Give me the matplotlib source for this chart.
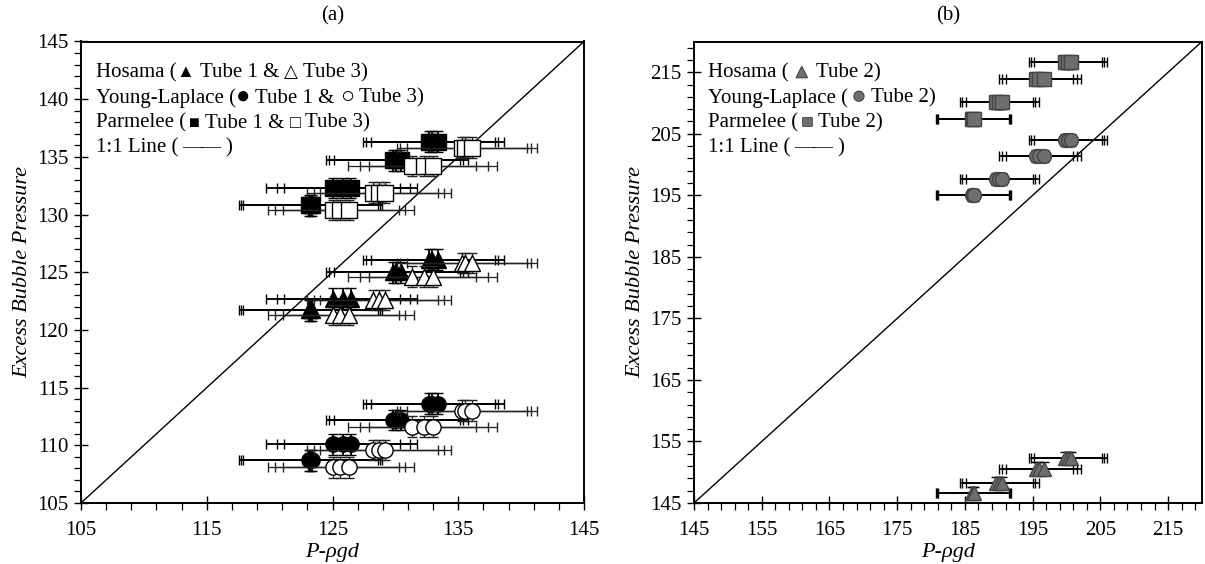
import matplotlib
matplotlib.use("Agg")
import matplotlib.pyplot as plt
import numpy as np
from matplotlib.ticker import MultipleLocator
import matplotlib.patheffects as pe

plt.rcParams['font.family'] = ['Liberation Serif', 'DejaVu Sans']

# ---------------- data: panel (a) ----------------
# measured P - rho g d (x), replicates per level
t1_x = [[123.10, 123.25, 123.40], [125.05, 125.85, 126.45],
        [129.80, 130.05, 130.45], [132.70, 132.95, 133.35]]
t1_xerr = [5.5, 5.3, 5.35, 5.25]
t3_x = [[125.05, 125.60, 126.30], [128.20, 128.70, 129.20],
        [131.35, 132.30, 133.00], [135.30, 135.55, 136.10]]
t3_xerr = [5.2, 5.2, 5.1, 5.2]
# excess bubble pressure per level (y)
hos_t1 = [121.7, 122.7, 125.0, 126.1]
hos_t3 = [121.3, 122.6, 124.6, 125.8]
yl_t1 = [108.7, 110.1, 112.2, 113.6]
yl_t3 = [108.1, 109.6, 111.6, 113.0]
par_t1 = [130.8, 132.3, 134.7, 136.3]
par_t3 = [130.4, 131.9, 134.2, 135.8]
yerr_a = 0.9

# ---------------- data: panel (b) ----------------
t2_x = [[186.10, 186.25, 186.40], [189.60, 190.00, 190.50],
        [195.50, 196.00, 196.60], [199.80, 200.20, 200.60]]
t2_xerr = [5.4, 5.4, 5.5, 5.4]
hos_t2 = [146.6, 148.2, 150.6, 152.3]
yl_t2 = [195.1, 197.6, 201.4, 204.0]
par_t2 = [207.4, 210.1, 213.9, 216.6]
yerr_b = 1.0

fig = plt.figure(figsize=(12.05, 5.64), dpi=100)
axA = fig.add_axes([81/1205, 61/564, 503/1205, 461.5/564])
axB = fig.add_axes([694/1205, 61/564, 508/1205, 461.5/564])


def group(ax, xs, xerrs, ys, yerr, marker, mfc, mec, ms, elw, ecol, z):
    counts = [len(r) for r in xs]
    x = np.concatenate([np.asarray(r, float) for r in xs])
    xe = np.repeat(xerrs, counts)
    y = np.repeat(ys, counts)
    ax.errorbar(x, y, xerr=xe, yerr=yerr, fmt=marker, ms=ms, mfc=mfc, mec=mec,
                mew=1.0, ecolor=ecol, elinewidth=elw, capsize=3.5, capthick=elw,
                zorder=z)


# panel (a)
for ys, mk, ms in [(hos_t1, '^', 11.5), (yl_t1, 'o', 11), (par_t1, 's', 11)]:
    group(axA, t1_x, t1_xerr, ys, yerr_a, mk, 'black', 'black', ms, 1.3, 'black', 3)
for ys, mk, ms in [(hos_t3, '^', 11.5), (yl_t3, 'o', 11), (par_t3, 's', 11)]:
    group(axA, t3_x, t3_xerr, ys, yerr_a, mk, 'white', 'black', ms, 0.9, '#222222', 4)

# panel (b)
for ys, mk, ms in [(hos_t2, '^', 10), (yl_t2, 'o', 10), (par_t2, 's', 10)]:
    group(axB, t2_x, t2_xerr, ys, yerr_b, mk, '#6e6e6e', '#444444', ms, 1.2, 'black', 3)

for ax, lo, hi in [(axA, 105, 145), (axB, 145, 220)]:
    ax.axline((lo, lo), slope=1, color='black', lw=1.0, zorder=2)
    ax.set_xlim(lo, hi)
    ax.set_ylim(lo, hi)
    for s in ax.spines.values():
        s.set_linewidth(1.4)
    ax.tick_params(which='major', direction='inout', length=10, width=1.0,
                   labelsize=15)
    ax.tick_params(axis='x', which='major', pad=8)
    ax.tick_params(axis='y', which='major', pad=4)
    ax.tick_params(which='minor', direction='out', length=5, width=0.9)
    ax.set_xlabel('P-ρgd', fontsize=16, fontstyle='italic', labelpad=2)
    ax.set_ylabel('Excess Bubble Pressure', fontsize=16, fontstyle='italic',
                  labelpad=3.5)
    ax.xaxis.set_major_locator(MultipleLocator(10, offset=5))
    ax.xaxis.set_minor_locator(MultipleLocator(2, offset=1))

axA.yaxis.set_major_locator(MultipleLocator(5))
axA.yaxis.set_minor_locator(MultipleLocator(1))
axB.yaxis.set_major_locator(MultipleLocator(10, offset=5))
axB.yaxis.set_minor_locator(MultipleLocator(2, offset=1))

axA.set_title('(a)', fontsize=15, pad=15)
axB.set_title('(b)', fontsize=15, pad=15)

# ---------------- text legends ----------------
renderer = fig.canvas.get_renderer()
FS = 15


def rich_line(ax, x, y, pieces):
    xa = x
    for txt, sty, gap in pieces:
        t = ax.text(xa, y, txt, transform=ax.transAxes, ha='left',
                    va='baseline', fontsize=sty.get('fontsize', FS),
                    color=sty.get('color', 'black'),
                    path_effects=sty.get('pe', None), zorder=6)
        bb = t.get_window_extent(renderer=renderer)
        xa = ax.transAxes.inverted().transform((bb.x1 + gap, 0))[0]


sym = {'fontsize': 13}
symc = {'fontsize': 17}
symg = {'fontsize': 13, 'color': '#6e6e6e',
        'pe': [pe.withStroke(linewidth=1.2, foreground='#333333')]}
symgc = {'fontsize': 16, 'color': '#6e6e6e',
         'pe': [pe.withStroke(linewidth=1.2, foreground='#333333')]}
plain = {}
dash = {'fontsize': 14}
SP = 5

legA = [
    [("Hosama (", plain, 0), ("▲", sym, SP), ("Tube 1 &", plain, SP), ("△", sym, SP), ("Tube 3)", plain, 0)],
    [("Young-Laplace (", plain, 0), ("●", symc, SP), ("Tube 1 &", plain, SP), ("○", symc, SP), ("Tube 3)", plain, 0)],
    [("Parmelee (", plain, 3), ("■", sym, SP), ("Tube 1 &", plain, SP), ("□", sym, SP), ("Tube 3)", plain, 0)],
    [("1:1 Line (", plain, 4), ("——", dash, 4), (")", plain, 0)],
]
legB = [
    [("Hosama (", plain, 4), ("▲", symg, SP), ("Tube 2)", plain, 0)],
    [("Young-Laplace (", plain, 4), ("●", symgc, SP), ("Tube 2)", plain, 0)],
    [("Parmelee (", plain, 4), ("■", symg, SP), ("Tube 2)", plain, 0)],
    [("1:1 Line (", plain, 4), ("——", dash, 4), (")", plain, 0)],
]
for ax, leg, x0 in [(axA, legA, 0.030), (axB, legB, 0.028)]:
    for i, pieces in enumerate(leg):
        rich_line(ax, x0, 0.922 - i * 0.0542, pieces)

fig.savefig('out.png', dpi=100)
